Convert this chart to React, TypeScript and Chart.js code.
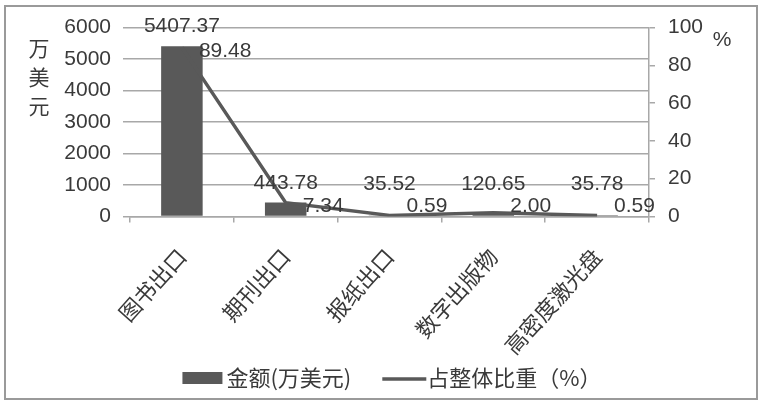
import React, { useEffect, useRef } from "react";
import { Chart, registerables } from "chart.js";

Chart.register(...registerables);

const categories = ["图书出口", "期刊出口", "报纸出口", "数字出版物", "高密度激光盘"];
const amountValues = [5407.37, 443.78, 35.52, 120.65, 35.78];
const shareValues = [89.48, 7.34, 0.59, 2.0, 0.59];
const amountLabel = "金额(万美元)";
const shareLabel = "占整体比重（%）";
const leftTitleChars = ["万", "美", "元"];
const rightTitle = "%";

const TEXT = "#3a3a3a";
const GRID = "#a8a8a8";
const DARK = "#595959";
const LATIN = '"Liberation Sans", "Noto Sans CJK SC", sans-serif';
const CJK = '"Noto Sans CJK SC", "Liberation Sans", sans-serif';
const NUM_SIZE = 21;
const CJK_SIZE = 21;

const decorPlugin = {
  id: "decor",
  beforeDraw(chart: any) {
    const ctx = chart.ctx;
    ctx.save();
    ctx.strokeStyle = "#9a9a9a";
    ctx.lineWidth = 2;
    ctx.strokeRect(5, 6, 752, 393);
    ctx.restore();
  },
  afterDatasetsDraw(chart: any) {
    const ctx = chart.ctx;
    const area = chart.chartArea;
    ctx.save();
    ctx.fillStyle = TEXT;
    ctx.font = `${NUM_SIZE}px ${LATIN}`;
    // bar labels
    const barMeta = chart.getDatasetMeta(0);
    barMeta.data.forEach((el: any, i: number) => {
      const base = Math.min(el.y - 14, area.bottom - 26.5);
      ctx.textAlign = "center";
      ctx.textBaseline = "alphabetic";
      ctx.fillText(amountValues[i].toFixed(2), el.x, base);
    });
    // line labels
    const lineMeta = chart.getDatasetMeta(1);
    lineMeta.data.forEach((el: any, i: number) => {
      const cy = Math.min(el.y + 4, area.bottom - 10.5);
      ctx.textAlign = "left";
      ctx.textBaseline = "middle";
      ctx.fillText(shareValues[i].toFixed(2), el.x + 17, cy);
    });
    // axis titles
    ctx.font = `${CJK_SIZE}px ${CJK}`;
    ctx.textAlign = "center";
    ctx.textBaseline = "middle";
    leftTitleChars.forEach((c, i) => ctx.fillText(c, 39, 48 + i * 29));
    ctx.font = `${NUM_SIZE}px ${LATIN}`;
    ctx.fillText(rightTitle, 722, 40);
    // legend
    ctx.font = `22px ${CJK}`;
    ctx.textAlign = "left";
    const w1 = ctx.measureText(amountLabel).width;
    const w2 = ctx.measureText(shareLabel).width;
    const total = 40 + 4 + w1 + 31 + 44 + 1 + w2;
    let x = 392 - total / 2;
    const ly = 378;
    ctx.fillStyle = DARK;
    ctx.fillRect(x, ly - 6, 40, 12);
    x += 44;
    ctx.fillStyle = TEXT;
    ctx.fillText(amountLabel, x, ly);
    x += w1 + 31;
    ctx.strokeStyle = DARK;
    ctx.lineWidth = 3.5;
    ctx.beginPath();
    ctx.moveTo(x, ly + 1);
    ctx.lineTo(x + 44, ly + 1);
    ctx.stroke();
    x += 45;
    ctx.fillText(shareLabel, x, ly);
    ctx.restore();
  },
};

export default function App() {
  const ref = useRef<HTMLCanvasElement | null>(null);
  useEffect(() => {
    if (!ref.current) return;
    const chart = new Chart(ref.current, {
      type: "bar",
      data: {
        labels: categories,
        datasets: [
          {
            type: "bar",
            label: amountLabel,
            data: amountValues,
            backgroundColor: DARK,
            yAxisID: "y",
            barPercentage: 0.4,
            categoryPercentage: 1.0,
            order: 2,
          },
          {
            type: "line",
            label: shareLabel,
            data: shareValues,
            borderColor: DARK,
            borderWidth: 3.5,
            pointRadius: 0,
            tension: 0,
            yAxisID: "y1",
            order: 1,
          },
        ] as any,
      },
      options: {
        responsive: false,
        animation: false,
        layout: { padding: { top: 27.5, left: 0, right: 0, bottom: 0 } },
        plugins: { legend: { display: false }, tooltip: { enabled: false } },
        scales: {
          x: {
            type: "category",
            offset: true,
            grid: {
              offset: true,
              drawOnChartArea: false,
              drawTicks: true,
              tickLength: 6,
              color: GRID,
              lineWidth: 1.5,
            },
            border: { display: true, color: GRID, width: 1.5 },
            ticks: {
              minRotation: 48,
              maxRotation: 48,
              autoSkip: false,
              padding: 21,
              color: TEXT,
              font: { family: CJK, size: 22 },
            },
            afterFit: (s: any) => {
              s.height = 188.5;
            },
          },
          y: {
            position: "left",
            min: 0,
            max: 6000,
            ticks: {
              stepSize: 1000,
              padding: 12,
              color: TEXT,
              font: { family: LATIN, size: NUM_SIZE },
              callback: (v: any) => String(v),
            },
            grid: { color: GRID, lineWidth: 1.5, tickLength: 7, drawTicks: true },
            border: { display: false },
            afterFit: (s: any) => {
              s.width = 130;
            },
          },
          y1: {
            position: "right",
            min: 0,
            max: 100,
            ticks: {
              stepSize: 20,
              padding: 13,
              color: TEXT,
              font: { family: LATIN, size: NUM_SIZE },
              callback: (v: any) => String(v),
            },
            grid: { drawOnChartArea: false, color: GRID, lineWidth: 1.5, tickLength: 6 },
            border: { display: true, color: GRID, width: 1.5 },
            afterFit: (s: any) => {
              s.width = 115;
            },
          },
        },
      } as any,
      plugins: [decorPlugin],
    });
    return () => chart.destroy();
  }, []);
  return (
    <div style={{ position: "fixed", left: 0, top: 0, width: 764, height: 405, background: "#fff" }}>
      <canvas ref={ref} width={764} height={405} style={{ display: "block" }} />
    </div>
  );
}
